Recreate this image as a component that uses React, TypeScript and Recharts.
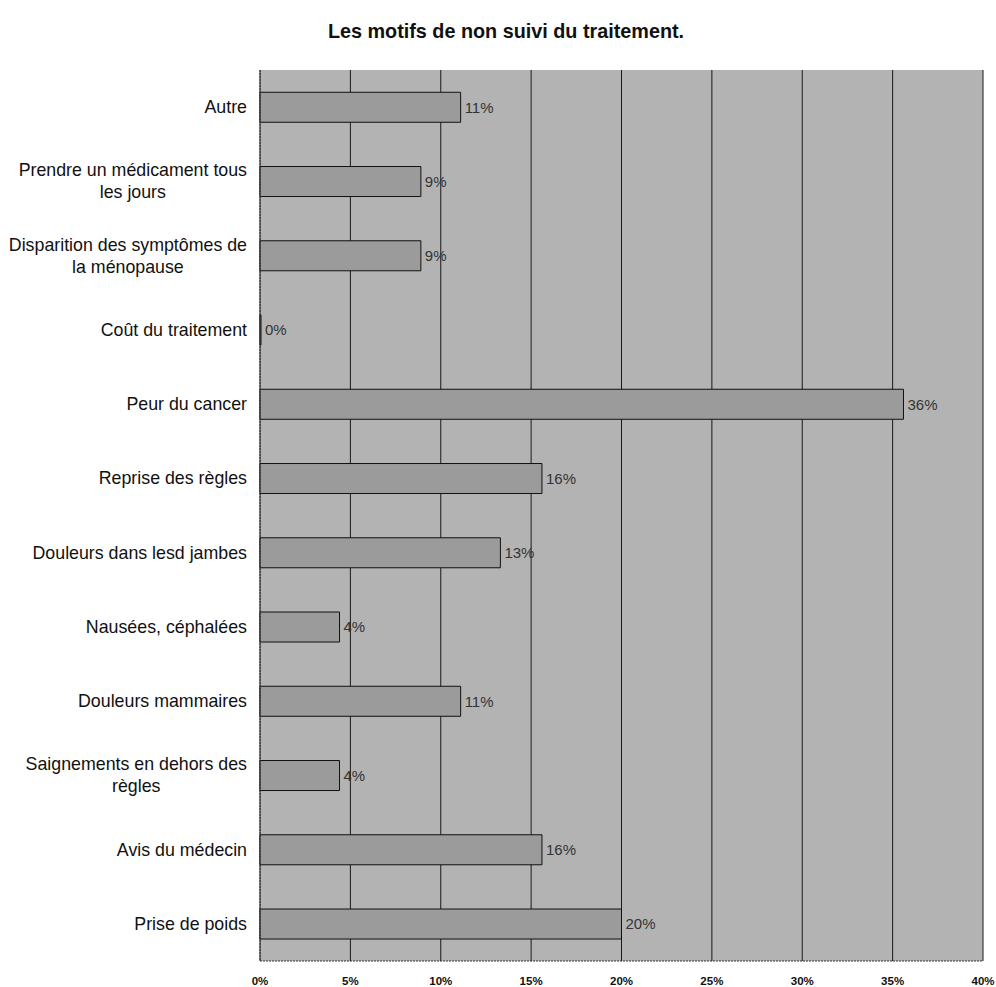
import { BarChart, Bar, XAxis, YAxis, CartesianGrid, LabelList } from "recharts";

// "\n" marks where the label wraps in the original
const categories = [
  "Autre",
  "Prendre un médicament tous\nles jours",
  "Disparition des symptômes de\nla ménopause",
  "Coût du traitement",
  "Peur du cancer",
  "Reprise des règles",
  "Douleurs dans lesd jambes",
  "Nausées, céphalées",
  "Douleurs mammaires",
  "Saignements en dehors des\nrègles",
  "Avis du médecin",
  "Prise de poids",
];

// percentages
const percents = [11.1, 8.9, 8.9, 0, 35.6, 15.6, 13.3, 4.4, 11.1, 4.4, 15.6, 20];

const xTicks = [0, 5, 10, 15, 20, 25, 30, 35, 40];

const data = categories.map((name, i) => ({ name, value: percents[i] }));

const FONT = "Arial, 'Liberation Sans', sans-serif";
const LABEL_SIZE = 17.8;
const LINE_GAP = 22;

let ctx: CanvasRenderingContext2D | null = null;
function measure(s: string) {
  if (!ctx) ctx = document.createElement("canvas").getContext("2d");
  if (!ctx) return s.length * LABEL_SIZE * 0.5;
  ctx.font = `${LABEL_SIZE}px Arial, 'Liberation Sans', sans-serif`;
  return ctx.measureText(s).width;
}

function CategoryTick(props: any) {
  const { x, y, payload } = props;
  const lines = String(payload.value).split("\n");
  const blockW = Math.max(...lines.map(measure));
  const cx = x - blockW / 2;
  const y0 = y - ((lines.length - 1) * LINE_GAP) / 2;
  return (
    <text
      fontSize={LABEL_SIZE}
      fontFamily={FONT}
      fill="#111"
      textAnchor="middle"
      dominantBaseline="central"
    >
      {lines.map((l, i) => (
        <tspan key={i} x={cx} y={y0 + i * LINE_GAP}>
          {l}
        </tspan>
      ))}
    </text>
  );
}

export default function App() {
  return (
    <div style={{ position: "absolute", left: 0, top: 0, width: 996, height: 987, background: "#fff" }}>
      <div
        style={{
          position: "absolute",
          top: 20,
          left: 8,
          width: 996,
          textAlign: "center",
          fontFamily: FONT,
          fontWeight: "bold",
          fontSize: 19.8,
          color: "#111",
        }}
      >
        Les motifs de non suivi du traitement.
      </div>
      <BarChart
        width={996}
        height={987}
        data={data}
        layout="vertical"
        margin={{ top: 70, right: 13, left: 0, bottom: 0 }}
        barCategoryGap="30%"
      >
        <CartesianGrid horizontal={false} stroke="#1a1a1a" fill="#b3b3b3" xAxisId="bottom" />
        <XAxis
          xAxisId="bottom"
          type="number"
          domain={[0, 40]}
          ticks={xTicks}
          tickFormatter={(v: number) => `${v}%`}
          height={26}
          tickSize={0}
          tickMargin={16}
          axisLine={{ stroke: "#333", strokeDasharray: "2 1" }}
          tick={{ fill: "#111", fontSize: 11.5, fontWeight: "bold", fontFamily: FONT }}
          interval={0}
        />
        <XAxis
          xAxisId="top"
          orientation="top"
          type="number"
          domain={[0, 40]}
          height={0}
          tick={false}
          tickLine={false}
          axisLine={{ stroke: "#333", strokeDasharray: "2 1" }}
        />
        <YAxis
          type="category"
          dataKey="name"
          width={260}
          tickSize={0}
          tickMargin={13}
          axisLine={{ stroke: "#333", strokeDasharray: "2 1" }}
          tick={<CategoryTick />}
          interval={0}
        />
        <Bar
          xAxisId="bottom"
          dataKey="value"
          fill="#9b9b9b"
          stroke="#111"
          strokeWidth={1}
          minPointSize={1}
          isAnimationActive={false}
        >
          <LabelList
            dataKey="value"
            position="right"
            offset={4}
            formatter={(v: any) => `${Math.round(Number(v))}%`}
            style={{ fill: "#333", fontSize: 15, fontFamily: FONT }}
          />
        </Bar>
      </BarChart>
    </div>
  );
}
